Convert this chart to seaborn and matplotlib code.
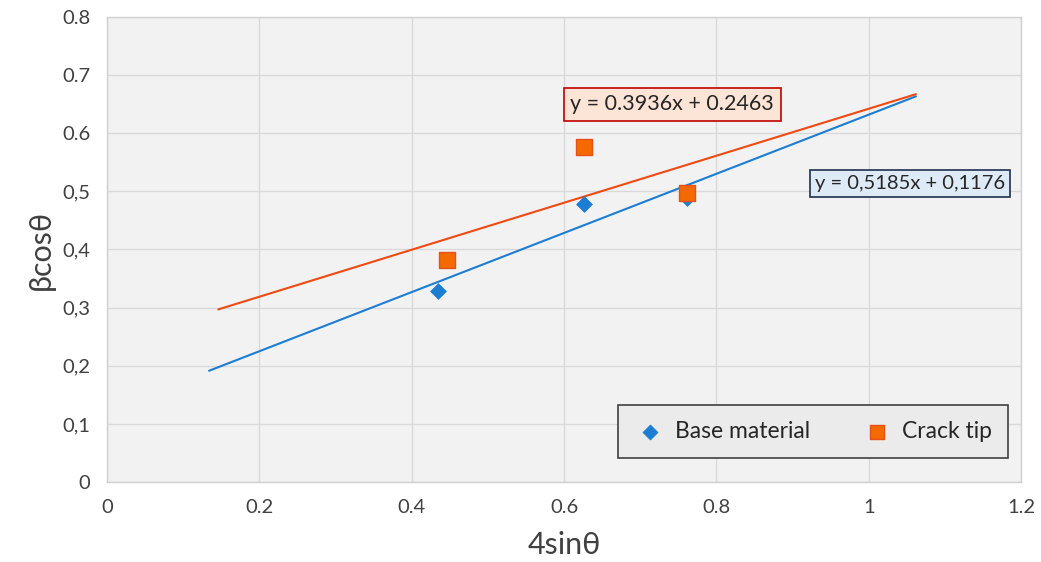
import numpy as np
import pandas as pd
import matplotlib
matplotlib.use("Agg")
import matplotlib.pyplot as plt
import seaborn as sns

# ---- data ----
base_x = [0.434, 0.626, 0.761]
base_y = [0.329, 0.478, 0.489]
crack_x = [0.447, 0.626, 0.761]
crack_y = [0.382, 0.576, 0.497]

base_trend_range = [0.134, 1.062]
crack_trend_range = [0.146, 1.062]

base_eq = "y = 0,5185x + 0,1176"
crack_eq = "y = 0.3936x + 0.2463"

x_ticks = [0, 0.2, 0.4, 0.6, 0.8, 1.0, 1.2]
x_tick_labels = ["0", "0.2", "0.4", "0.6", "0.8", "1", "1.2"]
y_ticks = [0, 0.1, 0.2, 0.3, 0.4, 0.5, 0.6, 0.7, 0.8]
y_tick_labels = ["0", "0,1", "0,2", "0,3", "0,4", "0,5", "0.6", "0.7", "0.8"]

BLUE = "#1c7dd3"
ORANGE_LINE = "#ef4a12"
ORANGE_FILL = "#f46a00"
ORANGE_EDGE = "#e8501a"

sns.set_theme(style="whitegrid")
plt.rcParams["font.family"] = ["Lato", "DejaVu Sans"]

fig = plt.figure(figsize=(10.41, 5.62), dpi=100)
ax = fig.add_axes([0.1028, 0.1423, 0.8780, 0.8275])
ax.set_facecolor("#f2f2f2")

# trend lines from least-squares fits of the data
for xs, ys, rng, col in [(base_x, base_y, base_trend_range, BLUE),
                         (crack_x, crack_y, crack_trend_range, ORANGE_LINE)]:
    slope, icpt = np.polyfit(xs, ys, 1)
    lx = np.array(rng)
    df_line = pd.DataFrame({"x": lx, "y": slope * lx + icpt})
    sns.lineplot(data=df_line, x="x", y="y", ax=ax, color=col, linewidth=1.5,
                 legend=False)

sns.scatterplot(x=base_x, y=base_y, ax=ax, marker="D", s=65, color=BLUE,
                edgecolor=BLUE, linewidth=0.5, label="Base material", zorder=5)
sns.scatterplot(x=crack_x, y=crack_y, ax=ax, marker="s", s=120, color=ORANGE_FILL,
                edgecolor=ORANGE_EDGE, linewidth=1.0, label="Crack tip", zorder=6)

ax.set_xlim(0, 1.2)
ax.set_ylim(0, 0.8)
ax.set_xticks(x_ticks)
ax.set_xticklabels(x_tick_labels)
ax.set_yticks(y_ticks)
ax.set_yticklabels(y_tick_labels)
ax.tick_params(axis="both", length=0, labelsize=14.5, colors="#404040", pad=12)
ax.grid(True, color="#d9d9d9", linewidth=1.0)
for sp in ax.spines.values():
    sp.set_color("#d0d0d0")
    sp.set_linewidth(1.0)

ax.set_xlabel("4sinθ", fontsize=22, color="#404040", labelpad=11)
ax.set_ylabel("βcosθ", fontsize=22, color="#404040", labelpad=5)

ax.text(0.742, 0.650, crack_eq, fontsize=15.5, color="#262626", ha="center", va="center",
        bbox=dict(boxstyle="square,pad=0.3", facecolor="#fce4d6", edgecolor="#c00000", linewidth=1.2),
        zorder=7)
ax.text(1.054, 0.513, base_eq, fontsize=14.5, color="#262626", ha="center", va="center",
        bbox=dict(boxstyle="square,pad=0.25", facecolor="#deebf7", edgecolor="#1f2f4f", linewidth=1.2),
        zorder=7)

leg = ax.legend(loc="lower right", bbox_to_anchor=(0.986, 0.052), ncol=2, fontsize=16.5,
                frameon=True, fancybox=False, borderpad=0.7, handletextpad=0.4,
                handlelength=1.4, columnspacing=2.2, borderaxespad=0, markerscale=0.95)
leg.get_frame().set_facecolor("#ebebeb")
leg.get_frame().set_edgecolor("#404040")
leg.get_frame().set_linewidth(1.2)
leg.get_frame().set_alpha(1)
for t in leg.get_texts():
    t.set_color("#262626")
leg.set_zorder(8)

fig.savefig("out.png", dpi=100, facecolor="white")
